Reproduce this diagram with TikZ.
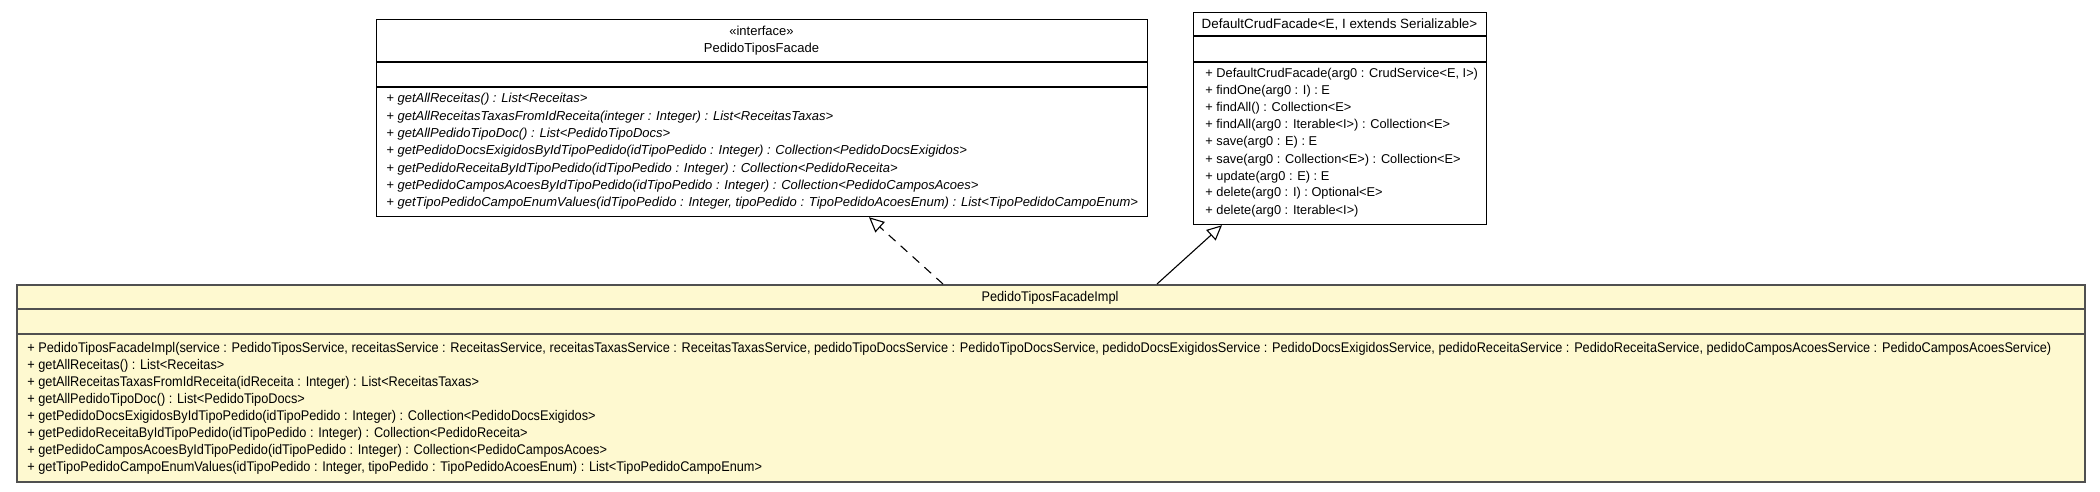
\documentclass[tikz,border=0pt]{standalone}
\usepackage{fontspec}
\setmainfont{Liberation Sans}
\newfontfamily\condfont[FakeStretch=0.91]{Liberation Sans}
\usetikzlibrary{arrows.meta,calc}
\definecolor{implfill}{HTML}{FEF9D0}
\definecolor{implline}{HTML}{505050}
\tikzset{
  ubox/.style={draw=black, line width=0.6pt, fill=white, anchor=north west, inner sep=0pt},
  ibox/.style={draw=implline, line width=1pt, fill=implfill, anchor=north west, inner sep=0pt},
  usep/.style={draw=black, line width=0.9pt},
  isep/.style={draw=implline, line width=1pt},
  txt/.style={inner sep=0pt, anchor=base west, font=\fontsize{6.4pt}{8pt}\selectfont},
  itxt/.style={inner sep=0pt, anchor=base west, font=\fontsize{6.5pt}{8pt}\selectfont\itshape},
  ctxt/.style={inner sep=0pt, anchor=base west, font=\fontsize{7pt}{8pt}\selectfont\condfont},
  hdr/.style={inner sep=0pt, anchor=base, font=\fontsize{6.5pt}{8pt}\selectfont},
  dhdr/.style={inner sep=0pt, anchor=base, font=\fontsize{6.7pt}{8pt}\selectfont},
  chdr/.style={inner sep=0pt, anchor=base, font=\fontsize{7pt}{8pt}\selectfont\condfont},
  realize/.style={draw=black, line width=0.55pt, dash pattern=on 4.5pt off 3.5pt, -{Triangle[open, length=7.5pt, width=7pt]}},
  general/.style={draw=black, line width=0.55pt, -{Triangle[open, length=7.5pt, width=7pt]}}
}
\begin{document}
\begin{tikzpicture}[x=0.5pt,y=-0.5pt]
\useasboundingbox (0,0) rectangle (2100,492);
\fill[white] (0,0) rectangle (2100,492);

% ---------- interface ----------
\node[ubox, minimum width=385.5pt, minimum height=98.5pt] (iface) at (376,19) {};
\draw[usep] (376,62) -- (1147,62);
\draw[usep] (376,87) -- (1147,87);
\node[hdr] (ifst) at (761.5,36) {«interface»};
\node[hdr] (ifnm) at (761.5,53) {PedidoTiposFacade};
\node[itxt] (i1) at (386,103) {+ getAllReceitas() : List<Receitas>};
\node[itxt] (i2) at (386,120.3) {+ getAllReceitasTaxasFromIdReceita(integer : Integer) : List<ReceitasTaxas>};
\node[itxt] (i3) at (386,137.6) {+ getAllPedidoTipoDoc() : List<PedidoTipoDocs>};
\node[itxt] (i4) at (386,154.9) {+ getPedidoDocsExigidosByIdTipoPedido(idTipoPedido : Integer) : Collection<PedidoDocsExigidos>};
\node[itxt] (i5) at (386,172.2) {+ getPedidoReceitaByIdTipoPedido(idTipoPedido : Integer) : Collection<PedidoReceita>};
\node[itxt] (i6) at (386,189.5) {+ getPedidoCamposAcoesByIdTipoPedido(idTipoPedido : Integer) : Collection<PedidoCamposAcoes>};
\node[itxt] (i7) at (386,206.8) {+ getTipoPedidoCampoEnumValues(idTipoPedido : Integer, tipoPedido : TipoPedidoAcoesEnum) : List<TipoPedidoCampoEnum>};

% ---------- DefaultCrudFacade ----------
\node[ubox, minimum width=146.5pt, minimum height=106pt] (dflt) at (1193,12) {};
\draw[usep] (1193,36) -- (1486,36);
\draw[usep] (1193,62) -- (1486,62);
\node[dhdr] (dnm) at (1339.5,29) {DefaultCrudFacade<E, I extends Serializable>};
\node[txt] (d1) at (1205,78) {+ DefaultCrudFacade(arg0 : CrudService<E, I>)};
\node[txt] (d2) at (1205,95) {+ findOne(arg0 : I) : E};
\node[txt] (d3) at (1205,112) {+ findAll() : Collection<E>};
\node[txt] (d4) at (1205,129) {+ findAll(arg0 : Iterable<I>) : Collection<E>};
\node[txt] (d5) at (1205,146) {+ save(arg0 : E) : E};
\node[txt] (d6) at (1205,163) {+ save(arg0 : Collection<E>) : Collection<E>};
\node[txt] (d7) at (1205,180) {+ update(arg0 : E) : E};
\node[txt] (d8) at (1205,197) {+ delete(arg0 : I) : Optional<E>};
\node[txt] (d9) at (1205,214) {+ delete(arg0 : Iterable<I>)};

% ---------- Impl ----------
\node[ibox, minimum width=1034pt, minimum height=98.5pt] (impl) at (16,284) {};
\draw[isep] (16,309) -- (2084,309);
\draw[isep] (16,334) -- (2084,334);
\node[chdr] (mnm) at (1050,301) {PedidoTiposFacadeImpl};
\node[ctxt] (m1) at (27,352) {+ PedidoTiposFacadeImpl(service : PedidoTiposService, receitasService : ReceitasService, receitasTaxasService : ReceitasTaxasService, pedidoTipoDocsService : PedidoTipoDocsService, pedidoDocsExigidosService : PedidoDocsExigidosService, pedidoReceitaService : PedidoReceitaService, pedidoCamposAcoesService : PedidoCamposAcoesService)};
\node[ctxt] (m2) at (27,369.1) {+ getAllReceitas() : List<Receitas>};
\node[ctxt] (m3) at (27,386.2) {+ getAllReceitasTaxasFromIdReceita(idReceita : Integer) : List<ReceitasTaxas>};
\node[ctxt] (m4) at (27,403.3) {+ getAllPedidoTipoDoc() : List<PedidoTipoDocs>};
\node[ctxt] (m5) at (27,420.4) {+ getPedidoDocsExigidosByIdTipoPedido(idTipoPedido : Integer) : Collection<PedidoDocsExigidos>};
\node[ctxt] (m6) at (27,437.5) {+ getPedidoReceitaByIdTipoPedido(idTipoPedido : Integer) : Collection<PedidoReceita>};
\node[ctxt] (m7) at (27,454.6) {+ getPedidoCamposAcoesByIdTipoPedido(idTipoPedido : Integer) : Collection<PedidoCamposAcoes>};
\node[ctxt] (m8) at (27,471.7) {+ getTipoPedidoCampoEnumValues(idTipoPedido : Integer, tipoPedido : TipoPedidoAcoesEnum) : List<TipoPedidoCampoEnum>};

% ---------- connectors ----------
\coordinate (rs) at ($(impl.north west)+(927,0)$);
\coordinate (rt) at ($(iface.south west)+(493,0)$);
\coordinate (gs) at ($(impl.north west)+(1141,0)$);
\coordinate (gt) at ($(dflt.south west)+(29,0)$);
\draw[realize] (rs) -- (rt);
\draw[general] (gs) -- (gt);
\end{tikzpicture}
\end{document}
